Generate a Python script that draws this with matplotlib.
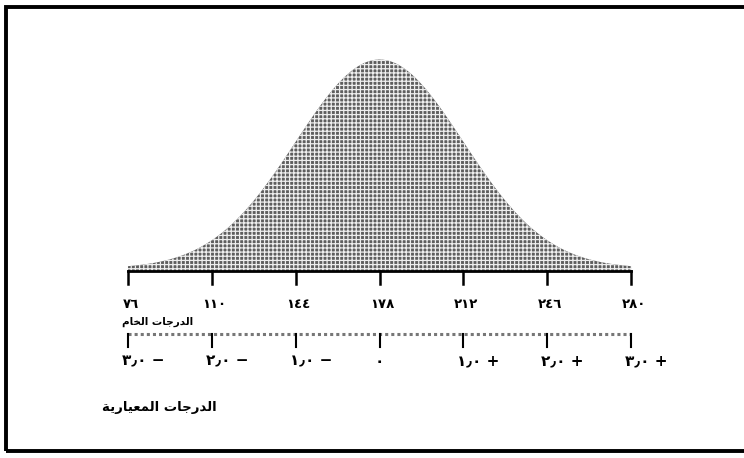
import numpy as np
import matplotlib.pyplot as plt
from matplotlib.patches import Rectangle

# raw scores (mean 178, sd 34) and matching standard scores
raw_ticks = [76, 110, 144, 178, 212, 246, 280]
raw_labels = ["٧٦", "١١٠", "١٤٤", "١٧٨", "٢١٢", "٢٤٦", "٢٨٠"]
std_labels = ["٣٫٠ −", "٢٫٠ −", "١٫٠ −", "٠", "١٫٠ +", "٢٫٠ +", "٣٫٠ +"]
mean = 178
sd = 34
raw_title = "الدرجات الخام"
std_title = "الدرجات المعيارية"

# matplotlib has no arabic shaping, so pick presentation forms by hand
forms = {
    "ا": ("ﺍ", "ﺎ", None, None),
    "د": ("ﺩ", "ﺪ", None, None),
    "ر": ("ﺭ", "ﺮ", None, None),
    "ة": ("ﺓ", "ﺔ", None, None),
    "ل": ("ﻝ", "ﻞ", "ﻟ", "ﻠ"),
    "ج": ("ﺝ", "ﺞ", "ﺟ", "ﺠ"),
    "ت": ("ﺕ", "ﺖ", "ﺗ", "ﺘ"),
    "خ": ("ﺥ", "ﺦ", "ﺧ", "ﺨ"),
    "م": ("ﻡ", "ﻢ", "ﻣ", "ﻤ"),
    "ع": ("ﻉ", "ﻊ", "ﻋ", "ﻌ"),
    "ي": ("ﻱ", "ﻲ", "ﻳ", "ﻴ"),
}


def shape(s):
    out = []
    for i, c in enumerate(s):
        if c not in forms:
            out.append(c)
            continue
        prev = s[i - 1] if i > 0 else ""
        nxt = s[i + 1] if i + 1 < len(s) else ""
        jp = prev in forms and forms[prev][2] is not None
        jn = forms[c][2] is not None and nxt in forms
        iso, fin, ini, med = forms[c]
        if jp and jn:
            out.append(med)
        elif jp:
            out.append(fin)
        elif jn:
            out.append(ini)
        else:
            out.append(iso)
    return "".join(out)[::-1]


fig = plt.figure(figsize=(7.44, 4.58), dpi=100)
ax = fig.add_axes([0, 0, 1, 1])
ax.set_xlim(24.1, 325.8)
ax.set_ylim(-0.895, 1.297)
ax.axis("off")

# dithered look of the scan: dark cells split by light grid lines
plt.rcParams["hatch.color"] = "#eeeeee"
plt.rcParams["hatch.linewidth"] = 0.9

x = np.linspace(raw_ticks[0], raw_ticks[-1], 400)
y = np.exp(-0.5 * ((x - mean) / sd) ** 2)
ax.fill_between(x, 0, y + 0.012, facecolor="#5e5e5e", edgecolor="none", hatch="++++")

# raw score axis
ax.plot([raw_ticks[0], raw_ticks[-1]], [0, 0], color="black", lw=2)
for t, lab in zip(raw_ticks, raw_labels):
    ax.plot([t, t], [0, -0.062], color="black", lw=1.8)
    ax.text(t + 1, -0.158, lab, ha="center", va="center", fontsize=9.5,
            fontweight="bold", family="DejaVu Sans")
ax.text(raw_ticks[0] - 2.5, -0.245, shape(raw_title), ha="left", va="center",
        fontsize=7.5, fontweight="bold", family="DejaVu Sans")

# standard score axis
ax.plot([raw_ticks[0], raw_ticks[-1]], [-0.301, -0.301], color="#777777",
        lw=2.2, ls=(0, (1, 1)))
for t, lab in zip(raw_ticks, std_labels):
    ax.plot([t, t], [-0.301, -0.364], color="black", lw=1.5)
    if lab == "٠":
        ax.text(t, -0.431, lab, ha="center", va="center", fontsize=11,
                fontweight="bold", family="DejaVu Sans")
    else:
        ax.text(t - 2.5, -0.431, lab, ha="left", va="center", fontsize=11,
                fontweight="bold", family="DejaVu Sans")
ax.text(65.5, -0.655, shape(std_title), ha="left", va="center", fontsize=9.5,
        fontweight="bold", family="DejaVu Sans")

# frame of the scanned figure (right side is cut off)
frame = Rectangle((6 / 744, 7 / 458), 1.2, (451 - 7) / 458, transform=ax.transAxes,
                  fill=False, lw=2.8, edgecolor="black", clip_on=True)
ax.add_patch(frame)

fig.savefig("out.png", dpi=100)
